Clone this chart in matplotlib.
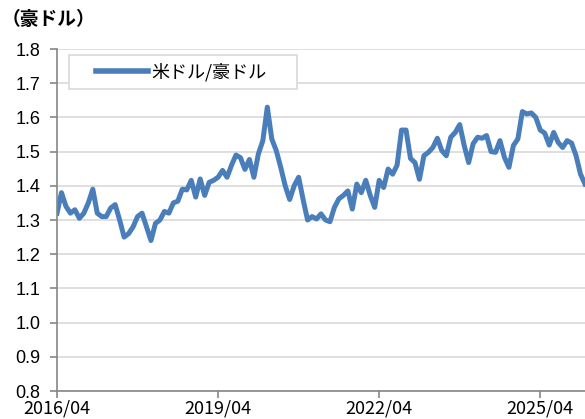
import numpy as np
import pandas as pd
import matplotlib
matplotlib.use("Agg")
import matplotlib.pyplot as plt
import matplotlib.patches as patches

plt.rcParams['font.family'] = ['Liberation Sans', 'Noto Sans CJK JP', 'DejaVu Sans']

# month-end USD/AUD, 2016/04 .. 2026/02
months = pd.date_range("2016-04-01", "2026-02-01", freq="MS")
usd_aud = [
    1.32, 1.38, 1.34, 1.32, 1.33, 1.305, 1.32, 1.35, 1.39, 1.32, 1.31, 1.31,
    1.335, 1.345, 1.30, 1.25, 1.26, 1.28, 1.31, 1.32, 1.28, 1.24, 1.29, 1.30,
    1.325, 1.32, 1.35, 1.355, 1.39, 1.388, 1.416, 1.367, 1.42, 1.372, 1.41, 1.416,
    1.425, 1.445, 1.425, 1.46, 1.49, 1.482, 1.448, 1.477, 1.425, 1.493, 1.532, 1.63,
    1.537, 1.503, 1.454, 1.40, 1.36, 1.40, 1.425, 1.36, 1.30, 1.31, 1.303, 1.318,
    1.30, 1.295, 1.337, 1.362, 1.372, 1.385, 1.332, 1.405, 1.38, 1.416, 1.372, 1.337,
    1.416, 1.395, 1.449, 1.434, 1.46, 1.563, 1.563, 1.48, 1.468, 1.419, 1.488, 1.498,
    1.512, 1.539, 1.503, 1.488, 1.542, 1.556, 1.579, 1.518, 1.468, 1.523, 1.542, 1.539,
    1.547, 1.50, 1.498, 1.532, 1.483, 1.454, 1.518, 1.537, 1.617, 1.61, 1.613, 1.60,
    1.563, 1.554, 1.519, 1.556, 1.527, 1.512, 1.532, 1.525, 1.488, 1.434, 1.405,
]
xtick_labels = ["2016/04", "2019/04", "2022/04", "2025/04"]
y_ticks = [0.8, 0.9, 1.0, 1.1, 1.2, 1.3, 1.4, 1.5, 1.6, 1.7, 1.8]

x = np.arange(len(months))
label_pos = [list(months.strftime("%Y/%m")).index(s) for s in xtick_labels]

fig = plt.figure(figsize=(5.85, 4.19), dpi=100)
ax = fig.add_axes([57 / 585, 1 - 391 / 419, 1 - 57 / 585, 342 / 419])

ax.plot(x, usd_aud, color='#4a7ebb', lw=3.6, solid_joinstyle='round',
        label='米ドル/豪ドル')

ax.set_xlim(0, len(months) - 1)
ax.set_ylim(0.8, 1.8)
ax.set_yticks(y_ticks)
ax.set_yticklabels([f"{v:.1f}" for v in y_ticks], fontsize=13)
ax.set_xticks(label_pos)
ax.set_xticklabels(xtick_labels, fontsize=13, family=['Noto Sans CJK JP'])

ax.grid(axis='y', color='#d9d9d9', lw=1.2)
ax.set_axisbelow(True)
for s in ['top', 'right']:
    ax.spines[s].set_visible(False)
for s in ['left', 'bottom']:
    ax.spines[s].set_color('#868686')
    ax.spines[s].set_linewidth(1.2)
ax.tick_params(axis='y', direction='out', length=5, color='#868686',
               width=1.2, pad=7)
ax.tick_params(axis='x', direction='out', length=5, color='#868686',
               width=1.2, pad=1)

# legend box (drawn by hand, Excel-style wide padding)
box = patches.Rectangle((12 / 528.6, (391 - 89) / 342), 228 / 528.6, 34 / 342,
                        transform=ax.transAxes, facecolor='white',
                        edgecolor='#d9d9d9', lw=1.2, zorder=4)
ax.add_patch(box)
leg = ax.legend(loc='center left', bbox_to_anchor=(39 / 528.6, (391 - 72) / 342),
                prop={'family': ['Noto Sans CJK JP'], 'size': 13},
                frameon=False, handlelength=2.9, borderpad=0,
                borderaxespad=0, handletextpad=0.15)
leg.set_zorder(5)
for l in leg.get_lines():
    l.set_linewidth(4)

fig.text(0.003, 0.975, '（豪ドル）', fontsize=13.5, fontweight='bold',
         va='top', ha='left', family=['Noto Sans CJK JP'])

fig.savefig('out.png', dpi=100)
